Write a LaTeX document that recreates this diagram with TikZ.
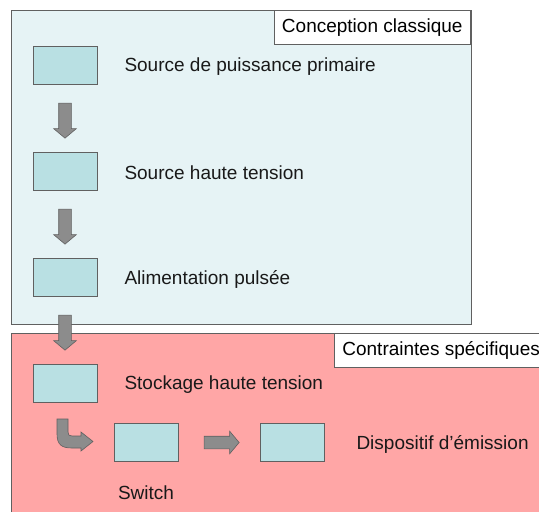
\documentclass[tikz,border=0pt]{standalone}
\usepackage{fontspec}
\setmainfont{Liberation Sans}
\usetikzlibrary{positioning,shapes.arrows,calc}

\definecolor{panelblue}{RGB}{230,243,245}
\definecolor{panelred}{RGB}{255,166,166}
\definecolor{boxcyan}{RGB}{185,224,227}
\definecolor{arrowgrey}{RGB}{140,140,140}
\definecolor{edgegrey}{RGB}{96,96,96}

\begin{document}
\begin{tikzpicture}[
			x=1pt, y=-1pt,
			font=\fontsize{19}{23}\selectfont,
			panel/.style={draw=edgegrey, line width=0.8pt},
			tag/.style={
				rectangle, draw=edgegrey, fill=white, line width=0.8pt,
				minimum height=34pt, inner xsep=8pt, inner ysep=0pt
			},
			block/.style={
				rectangle, draw=edgegrey, fill=boxcyan, line width=0.6pt,
				minimum width=64pt, minimum height=38pt
			},
			lbl/.style={inner sep=0pt, text=black!90, yshift=-2pt},
			flow/.style={
				single arrow, draw=edgegrey, fill=arrowgrey, line width=0.6pt,
				inner sep=6pt, single arrow head extend=5pt,
				single arrow tip angle=100, minimum height=35pt
			}
			]
			
			\clip (0,0) rectangle (539,512);
			
			%% ── Panels ──────────────────────────────────────────────────────────
			\fill[white] (0,0) rectangle (539,512);
			\draw[panel, fill=panelblue] (11,10) rectangle (471,324);
			\draw[panel, fill=panelred] (11,333) rectangle (600,600);
			
			\node[tag, anchor=north east] (classic)  at (471,10)  {Conception classique};
			\node[tag, anchor=north west] (specific) at (334,333) {Contraintes spécifiques};
			
			%% ── Chain of blocks ─────────────────────────────────────────────────
			\node[block] (src)    at (65,65)    {};
			\node[block] (hv)     at (65,171)   {};
			\node[block] (pulse)  at (65,277)   {};
			\node[block] (store)  at (65,383)   {};
			\node[block] (switch) at (146,442.5) {};
			\node[block] (emit)   at (292,442.5) {};
			
			\node[lbl, right=27pt of src]   (srclbl)    {Source de puissance primaire};
			\node[lbl, right=27pt of hv]    (hvlbl)     {Source haute tension};
			\node[lbl, right=27pt of pulse] (pulselbl)  {Alimentation pulsée};
			\node[lbl, right=27pt of store] (storelbl)  {Stockage haute tension};
			\node[lbl, right=32pt of emit]  (emitlbl)   {Dispositif d’émission};
			\node[lbl, below=22pt of switch] (switchlbl) {Switch};
			
			%% ── Block arrows ────────────────────────────────────────────────────
			\node[flow, rotate=-90] (a1) at ($(src.south)!0.5!(hv.north)$)     {};
			\node[flow, rotate=-90] (a2) at ($(hv.south)!0.5!(pulse.north)$)   {};
			\node[flow, rotate=-90] (a3) at ($(pulse.south)!0.5!(store.north)$) {};
			\node[flow]             (a4) at ($(switch.east)!0.5!(emit.west)$)   {};
			
			%% store -> switch (bent arrow)
			\draw[draw=edgegrey, fill=arrowgrey, line width=0.6pt]
			(57,419) -- (57,434) .. controls (57,445) and (62,448) .. (72,448)
			-- (81,448) -- (81,451) -- (93,441.5) -- (81,432) -- (81,436)
			-- (72,436) .. controls (69,436) and (68,435) .. (68,432)
			-- (68,419) -- cycle;
			
		\end{tikzpicture}
\end{document}
